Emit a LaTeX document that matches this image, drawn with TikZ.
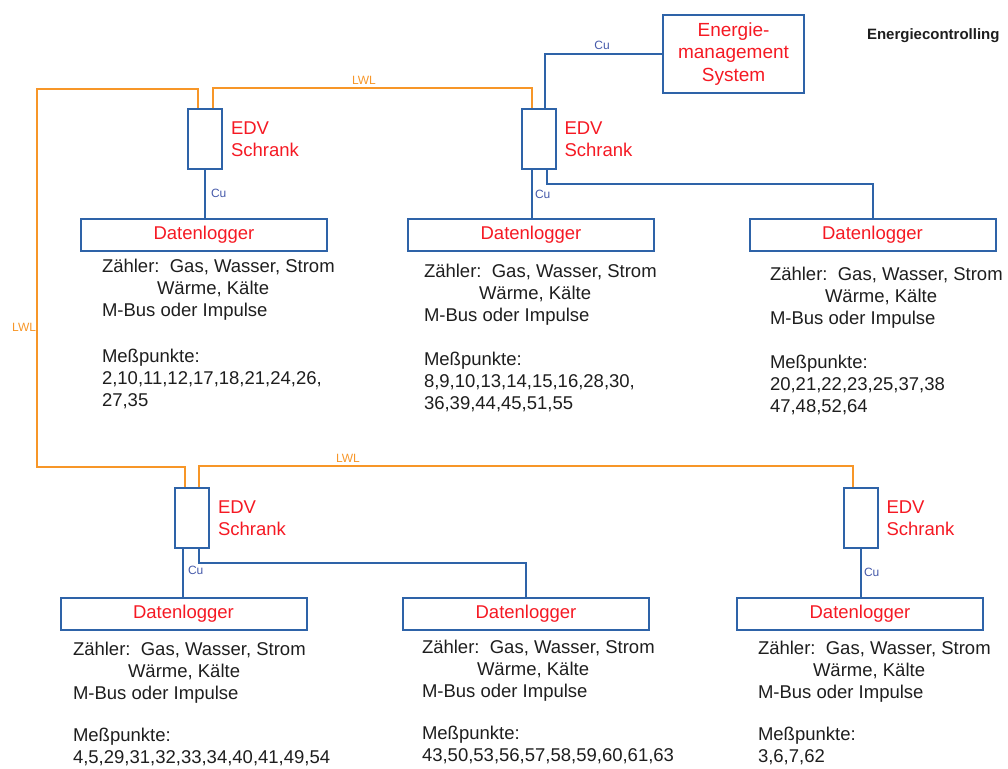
\documentclass[tikz,border=0pt]{standalone}
\usepackage{fontspec}
\setmainfont{Liberation Sans}
\usetikzlibrary{positioning}
\definecolor{kabelblau}{RGB}{46,99,168}
\definecolor{lwlorange}{RGB}{247,150,40}
\definecolor{rotschrift}{RGB}{245,25,35}
\definecolor{cuschrift}{RGB}{70,90,170}
\definecolor{textschwarz}{RGB}{30,30,30}
\begin{document}
\begin{tikzpicture}[x=1pt,y=-1pt,line width=2pt,
  schrank/.style={draw=kabelblau,minimum width=34pt,minimum height=60pt,inner sep=0pt},
  logger/.style={draw=kabelblau,minimum width=246pt,minimum height=32pt,inner sep=0pt,text=rotschrift,font=\fontsize{18.5}{21}\selectfont},
  schranktext/.style={inner sep=0pt,align=left,text=rotschrift,font=\fontsize{18.5}{22}\selectfont},
  info/.style={anchor=north west,inner sep=0pt,align=left,text=textschwarz,font=\fontsize{18.5}{22}\selectfont},
  lwl/.style={draw=lwlorange},
  cu/.style={draw=kabelblau},
  lwltext/.style={inner sep=0pt,text=lwlorange,font=\fontsize{12}{14}\selectfont},
  cutext/.style={inner sep=0pt,text=cuschrift,font=\fontsize{12}{14}\selectfont}]
\path[use as bounding box] (0,0) rectangle (1008,768);
\node[anchor=west,inner sep=0pt,text=textschwarz,font=\bfseries\fontsize{15}{17}\selectfont] (titel) at (866,36) {Energiecontrolling};
\node[draw=kabelblau,minimum width=141pt,minimum height=78pt,inner sep=0pt,align=center,text=rotschrift,font=\fontsize{19}{22.5}\selectfont] (ems) at (733.5,54) {Energie-\\management\\System};
\node[schrank] (s1) at (205,139) {};
\node[schrank] (s2) at (538.5,139) {};
\node[schrank] (s4) at (192,518) {};
\node[schrank] (s6) at (860.5,518) {};
\node[schranktext,right=7pt of s1] (t1) {EDV\\Schrank};
\node[schranktext,right=7pt of s2] (t2) {EDV\\Schrank};
\node[schranktext,right=7pt of s4] (t4) {EDV\\Schrank};
\node[schranktext,right=7pt of s6] (t6) {EDV\\Schrank};
\node[logger] (d1) at (204,235) {Datenlogger};
\node[logger] (d2) at (531,235) {Datenlogger};
\node[logger] (d3) at (872.5,235) {Datenlogger};
\node[logger] (d4) at (183.5,614) {Datenlogger};
\node[logger] (d5) at (526,614) {Datenlogger};
\node[logger] (d6) at (860,614) {Datenlogger};
\node[info] (i1) at (101,258) {Zähler:\ \ Gas, Wasser, Strom\\\hspace*{55pt}Wärme, Kälte\\M-Bus oder Impulse\\[24pt]Meßpunkte:\\2,10,11,12,17,18,21,24,26,\\27,35};
\node[info] (i2) at (423,263) {Zähler:\ \ Gas, Wasser, Strom\\\hspace*{55pt}Wärme, Kälte\\M-Bus oder Impulse\\[22pt]Meßpunkte:\\8,9,10,13,14,15,16,28,30,\\36,39,44,45,51,55};
\node[info] (i3) at (769,266) {Zähler:\ \ Gas, Wasser, Strom\\\hspace*{55pt}Wärme, Kälte\\M-Bus oder Impulse\\[22pt]Meßpunkte:\\20,21,22,23,25,37,38\\47,48,52,64};
\node[info] (i4) at (72,641) {Zähler:\ \ Gas, Wasser, Strom\\\hspace*{55pt}Wärme, Kälte\\M-Bus oder Impulse\\[20pt]Meßpunkte:\\4,5,29,31,32,33,34,40,41,49,54};
\node[info] (i5) at (421,639) {Zähler:\ \ Gas, Wasser, Strom\\\hspace*{55pt}Wärme, Kälte\\M-Bus oder Impulse\\[20pt]Meßpunkte:\\43,50,53,56,57,58,59,60,61,63};
\node[info] (i6) at (757,640) {Zähler:\ \ Gas, Wasser, Strom\\\hspace*{55pt}Wärme, Kälte\\M-Bus oder Impulse\\[20pt]Meßpunkte:\\3,6,7,62};
\coordinate (ecke1) at (37,89);
\coordinate (ecke2) at (37,467);
\draw[lwl] ([xshift=-7pt]s1.north) |- (ecke1) -- (ecke2) -| ([xshift=-7pt]s4.north);
\draw[lwl] ([xshift=8pt]s1.north) -- ++(0,-20) -| ([xshift=-6.5pt]s2.north);
\draw[lwl] ([xshift=7pt]s4.north) -- ++(0,-21) -| ([xshift=-7.5pt]s6.north);
\coordinate (s2a) at ([xshift=-6.5pt]s2.south);
\coordinate (s4a) at ([xshift=-9pt]s4.south);
\draw[cu] ([xshift=6.5pt]s2.north) |- (ems.west);
\draw[cu] (s1.south) -- (s1.south |- d1.north);
\draw[cu] (s2a) -- (s2a |- d2.north);
\draw[cu] ([xshift=8.5pt]s2.south) -- ++(0,14) -| (d3.north);
\draw[cu] (s4a) -- (s4a |- d4.north);
\draw[cu] ([xshift=7pt]s4.south) -- ++(0,14) -| (d5.north);
\draw[cu] (s6.south) -- (s6.south |- d6.north);
\node[lwltext] (lwl1) at (364,80) {LWL};
\node[lwltext,anchor=east] (lwl2) at (37,327) {LWL};
\node[lwltext] (lwl3) at (348,458) {LWL};
\node[cutext] (cu0) at (602,45) {Cu};
\node[cutext,anchor=west] (cu1) at (210,193) {Cu};
\node[cutext,anchor=west] (cu2) at (534,194) {Cu};
\node[cutext,anchor=west] (cu4) at (187,570) {Cu};
\node[cutext,anchor=west] (cu6) at (863,572) {Cu};
\end{tikzpicture}
\end{document}
